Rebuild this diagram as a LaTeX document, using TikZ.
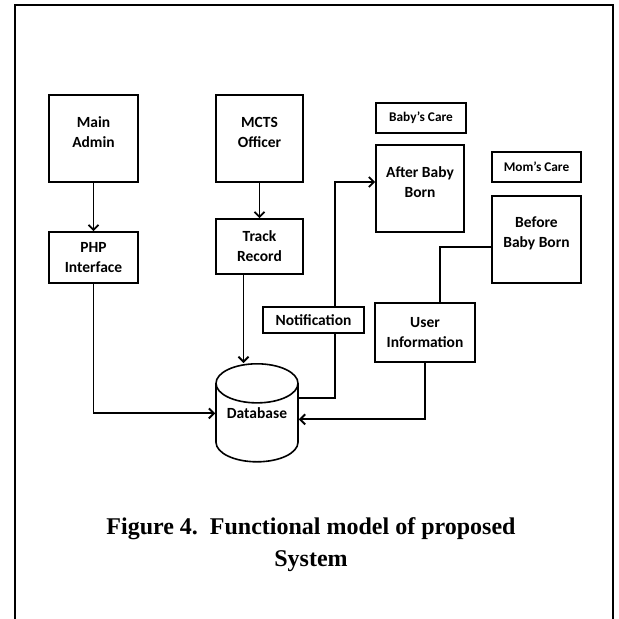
\documentclass[tikz,border=0pt]{standalone}
\usepackage{fontspec}
\setmainfont{Liberation Serif}
\newfontfamily\boxfont{Carlito}
\usetikzlibrary{arrows.meta,shapes.geometric}

\begin{document}
\begin{tikzpicture}[x=1pt, y=-1pt, >={Straight Barb[length=5pt,width=10pt]},
    line width=1.6pt,
    link/.style={line width=1.9pt},
    box/.style={draw, line width=1.6pt, inner sep=0pt, font=\boxfont\bfseries\fontsize{15.5}{20}\selectfont, align=center},
    smallbox/.style={box, font=\boxfont\bfseries\fontsize{13.3}{16}\selectfont},
    lbl/.style={font=\boxfont\bfseries\fontsize{15.5}{20}\selectfont, align=center}]
  \useasboundingbox (0,0) rectangle (619,619);
  % outer frame, open at the bottom
  \draw[line width=2pt] (15,619) -- (15,5) -- (613,5) -- (613,619);

  % left column
  \node[box, minimum width=89, minimum height=87,
        label={[lbl, yshift=6pt]center:Main\\Admin}] (admin) at (93.5,138.5) {};
  \node[box, minimum width=89, minimum height=51] (php) at (93.5,257.5) {PHP\\Interface};
  % middle column
  \node[box, minimum width=87, minimum height=87,
        label={[lbl, yshift=6pt]center:MCTS\\Officer}] (mcts) at (259.5,138.5) {};
  \node[box, minimum width=87, minimum height=55] (track) at (259.5,246.5) {Track\\Record};
  \node[box, minimum width=101, minimum height=26] (notif) at (313.5,320) {Notification};
  \node[draw, cylinder, shape border rotate=90, aspect=0.65, inner sep=0pt, line width=1.6pt,
        minimum width=82, minimum height=98, lbl, text depth=20pt, anchor=north] (db) at (257,363) {Database};
  % right side
  \node[smallbox, minimum width=90, minimum height=30] (babycare) at (421,118) {Baby’s Care};
  \node[box, minimum width=88, minimum height=87,
        label={[lbl, yshift=6pt]center:After Baby\\Born}] (after) at (420,188.5) {};
  \node[smallbox, minimum width=89, minimum height=30] (momcare) at (536.5,167) {Mom’s Care};
  \node[box, minimum width=89, minimum height=87,
        label={[lbl, yshift=6pt]center:Before\\Baby Born}] (before) at (536.5,239.5) {};
  \node[box, minimum width=100, minimum height=59] (user) at (425,332.5) {User\\Information};

  % connectors
  \draw[link, ->] (admin) -- (php);
  \draw[link, ->] (mcts) -- (track);
  \draw[link, ->] (php.south) |- ([yshift=5pt]db.text -| db.west);
  \draw[link, ->] ([xshift=-16pt]track.south) -- ([xshift=-16pt]track.south |- db.north);
  \draw[link] ([yshift=20pt]db.text -| db.east) -| ([xshift=21.5pt]notif.south);
  \draw[link, ->] ([xshift=21.5pt]notif.north) |- ([yshift=6.5pt]after.west);
  \draw[link, ->] (user.south) |- ([yshift=-1pt]db.text -| db.east);
  \draw[link] ([yshift=-7.5pt]before.west) -| ([xshift=15pt]user.north);

  \node[font=\bfseries\fontsize{24}{32}\selectfont, align=center, anchor=base] (caption) at (311,566)
    {Figure 4.\ \ Functional model of proposed\\System};
\end{tikzpicture}
\end{document}
